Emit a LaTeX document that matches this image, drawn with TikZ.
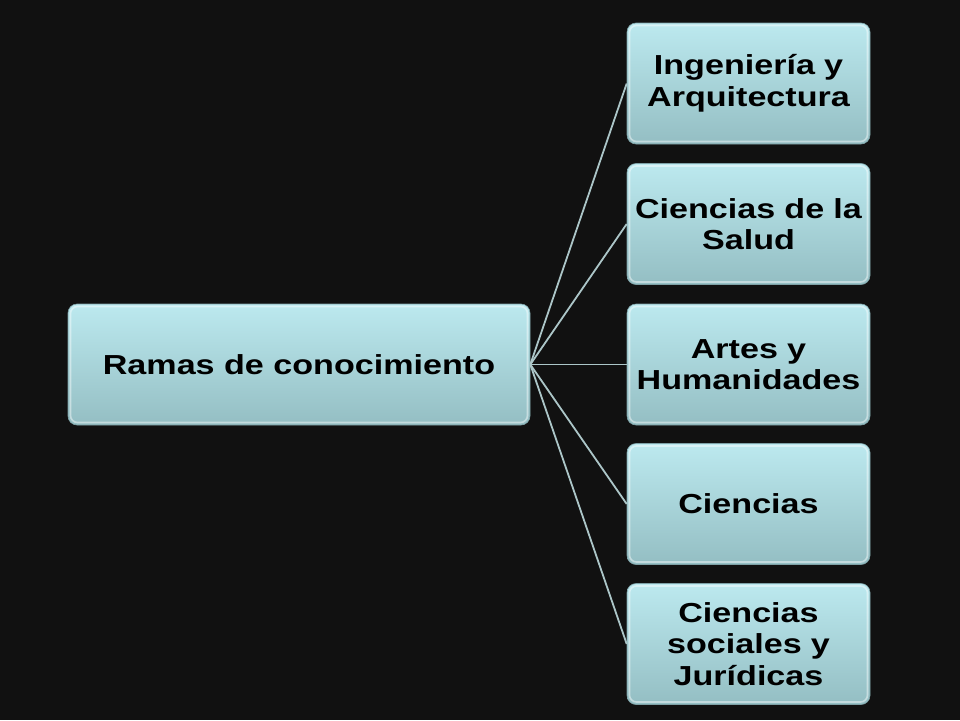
\documentclass[tikz,border=0pt]{standalone}
\usepackage{fontspec}
\setmainfont[FakeStretch=1.24]{Liberation Sans}
\definecolor{bg}{RGB}{17,17,17}
\definecolor{boxtop}{RGB}{188,233,239}
\definecolor{boxbot}{RGB}{148,190,195}
\definecolor{linkc}{RGB}{172,198,200}
\begin{document}
\begin{tikzpicture}[x=1pt,y=-1pt,
  box/.style={rounded corners=9pt, top color=boxtop, bottom color=boxbot,
    draw=boxbot!85!black, line width=0.6pt, minimum height=121pt,
    align=center, inner sep=0pt,
    font=\fontsize{27.5}{31.5}\selectfont\bfseries,
    path picture={\draw[white,opacity=0.45,line width=1.6pt,rounded corners=7pt]
      ([shift={(2.5pt,-2.5pt)}]path picture bounding box.north west) rectangle
      ([shift={(-2.5pt,2.5pt)}]path picture bounding box.south east);}},
  rootbox/.style={box, minimum width=462pt},
  childbox/.style={box, minimum width=243pt, text width=240pt},
  link/.style={draw=linkc, line width=1.8pt}]
\path[fill=bg] (0,0) rectangle (960,720);
\node[rootbox] (root) at (299,364.5) {Ramas de conocimiento};
\node[childbox] (c1) at (748.5,83.5) {Ingeniería y\\Arquitectura};
\node[childbox] (c2) at (748.5,224) {Ciencias de la\\Salud};
\node[childbox] (c3) at (748.5,364.5) {Artes y\\Humanidades};
\node[childbox] (c4) at (748.5,504) {Ciencias};
\node[childbox] (c5) at (748.5,644) {Ciencias\\sociales y\\Jurídicas};
\foreach \c in {c1,c2,c3,c4,c5}
  \draw[link] (root.east) -- (\c.west);
\end{tikzpicture}
\end{document}
